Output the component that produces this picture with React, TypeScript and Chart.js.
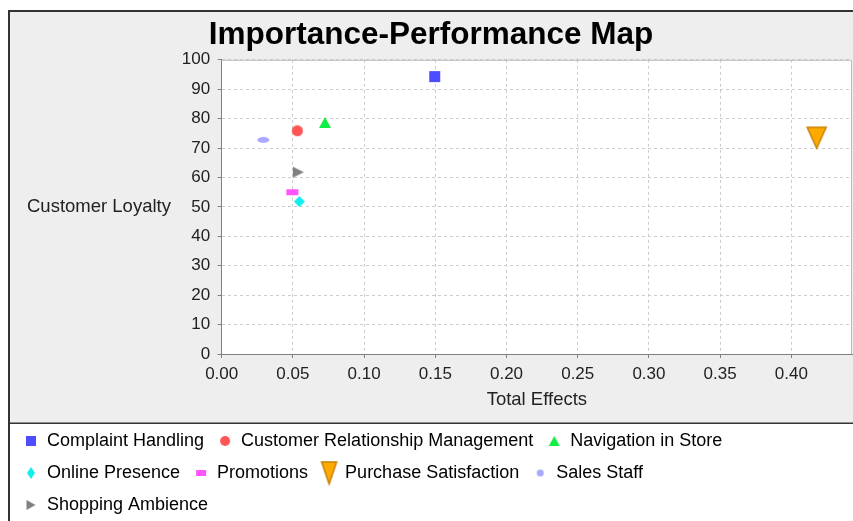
import React, { useEffect, useRef } from "react";
import { Chart, registerables } from "chart.js";

Chart.register(...registerables);

// ---------- data ----------
const CHART_TITLE = "Importance-Performance Map";
const X_TITLE = "Total Effects";
const Y_TITLE = "Customer Loyalty";

const SERIES_NAMES = [
  "Complaint Handling",
  "Customer Relationship Management",
  "Navigation in Store",
  "Online Presence",
  "Promotions",
  "Purchase Satisfaction",
  "Sales Staff",
  "Shopping Ambience",
];
const TOTAL_EFFECTS = [0.1496, 0.0531, 0.0725, 0.0545, 0.0496, 0.4178, 0.0292, 0.0538];
const CUSTOMER_LOYALTY = [94.3, 75.9, 78.7, 51.8, 55.0, 73.5, 72.8, 61.8];

const X_MIN = 0;
const X_MAX = 0.4426;
const X_STEP = 0.05;
const Y_MIN = 0;
const Y_MAX = 100;
const Y_STEP = 10;

// ---------- styles ----------
type Kind = "square" | "circle" | "triUp" | "diamond" | "rect" | "triDown" | "ellipse" | "triRight";
const MARKERS: { kind: Kind; fill: string; stroke: string; w: number; h: number; lw: number; lh: number }[] = [
  { kind: "square", fill: "#4D4DFF", stroke: "", w: 11, h: 11, lw: 10, lh: 10 },
  { kind: "circle", fill: "#FF5555", stroke: "", w: 11, h: 11, lw: 10, lh: 10 },
  { kind: "triUp", fill: "#11EE44", stroke: "", w: 12, h: 11, lw: 11, lh: 10 },
  { kind: "diamond", fill: "#11EEEE", stroke: "", w: 11, h: 11, lw: 8, lh: 12 },
  { kind: "rect", fill: "#FF55FF", stroke: "", w: 12, h: 6, lw: 10, lh: 6 },
  { kind: "triDown", fill: "#FFAA00", stroke: "#C88000", w: 19, h: 21, lw: 15, lh: 22 },
  { kind: "ellipse", fill: "#A8A8FF", stroke: "", w: 12, h: 6, lw: 7, lh: 7 },
  { kind: "triRight", fill: "#808080", stroke: "", w: 11, h: 11, lw: 9, lh: 10 },
];

const FONT = "'Liberation Sans', Arial, Helvetica, sans-serif";
const TEXT_COLOR = "#222222";

function makeMarker(kind: Kind, fill: string, stroke: string, w: number, h: number) {
  const pad = 2;
  const c = document.createElement("canvas");
  c.width = w + pad * 2;
  c.height = h + pad * 2;
  const ctx = c.getContext("2d")!;
  ctx.translate(pad, pad);
  ctx.beginPath();
  switch (kind) {
    case "square":
    case "rect":
      ctx.rect(0, 0, w, h);
      break;
    case "circle":
    case "ellipse":
      ctx.ellipse(w / 2, h / 2, w / 2, h / 2, 0, 0, Math.PI * 2);
      break;
    case "triUp":
      ctx.moveTo(w / 2, 0);
      ctx.lineTo(w, h);
      ctx.lineTo(0, h);
      ctx.closePath();
      break;
    case "triDown":
      ctx.moveTo(0, 0);
      ctx.lineTo(w, 0);
      ctx.lineTo(w / 2, h);
      ctx.closePath();
      break;
    case "triRight":
      ctx.moveTo(0, 0);
      ctx.lineTo(w, h / 2);
      ctx.lineTo(0, h);
      ctx.closePath();
      break;
    case "diamond":
      ctx.moveTo(w / 2, 0);
      ctx.lineTo(w, h / 2);
      ctx.lineTo(w / 2, h);
      ctx.lineTo(0, h / 2);
      ctx.closePath();
      break;
  }
  ctx.fillStyle = fill;
  ctx.fill();
  if (stroke) {
    ctx.strokeStyle = stroke;
    ctx.lineWidth = 1.5;
    ctx.lineJoin = "miter";
    ctx.stroke();
  }
  return c;
}

export default function App() {
  const ref = useRef<HTMLCanvasElement>(null);

  useEffect(() => {
    const canvas = ref.current!;
    const plotMarkers = MARKERS.map((m) => makeMarker(m.kind, m.fill, m.stroke, m.w, m.h));
    const legendMarkers = MARKERS.map((m) => makeMarker(m.kind, m.fill, m.stroke, m.lw, m.lh));

    const datasets = SERIES_NAMES.map((name, i) => ({
      label: name,
      data: [{ x: TOTAL_EFFECTS[i], y: CUSTOMER_LOYALTY[i] }],
      pointStyle: plotMarkers[i] as any,
      pointRadius: 6,
      backgroundColor: MARKERS[i].fill,
      borderColor: MARKERS[i].fill,
    }));

    const decor = {
      id: "decor",
      beforeDraw(chart: any) {
        const { ctx, chartArea: a, width, height } = chart;
        const sep = chart.legend.top + 6;
        ctx.save();
        ctx.fillStyle = "#EEEEEE";
        ctx.fillRect(0, 0, width, height);
        ctx.fillStyle = "#FFFFFF";
        ctx.fillRect(a.left, a.top, a.right - a.left, a.bottom - a.top);
        ctx.fillRect(0, sep, width, height - sep);
        ctx.fillStyle = "#333333";
        ctx.fillRect(0, sep - 1.5, width, 1.5);
        ctx.restore();
      },
      beforeDatasetsDraw(chart: any) {
        const { ctx, chartArea: a } = chart;
        ctx.save();
        ctx.strokeStyle = "#BBBBBB";
        ctx.lineWidth = 1;
        ctx.beginPath();
        ctx.moveTo(a.left, a.top + 0.5);
        ctx.lineTo(a.right - 0.5, a.top + 0.5);
        ctx.lineTo(a.right - 0.5, a.bottom);
        ctx.stroke();
        ctx.restore();
      },
      afterDraw(chart: any) {
        const { ctx, chartArea: a } = chart;
        ctx.save();
        ctx.font = `18.5px ${FONT}`;
        ctx.fillStyle = TEXT_COLOR;
        ctx.textAlign = "left";
        ctx.textBaseline = "middle";
        ctx.fillText(Y_TITLE, 17, (a.top + a.bottom) / 2);
        ctx.restore();
      },
    };

    const tickFont = { family: FONT, size: 17 };
    const axisTitleFont = { family: FONT, size: 18.5 };
    const chart = new Chart(canvas, {
      type: "scatter",
      data: { datasets },
      options: {
        animation: false,
        responsive: false,
        events: [],
        layout: { autoPadding: false, padding: { left: 0, right: 1, top: 0, bottom: 0 } },
        plugins: {
          title: {
            display: true,
            text: CHART_TITLE,
            color: "#000000",
            font: { family: FONT, size: 31.5, weight: "bold" },
            padding: { top: 4, bottom: 6 },
          },
          legend: {
            position: "bottom",
            align: "start",
            labels: {
              usePointStyle: true,
              pointStyleWidth: 14,
              boxHeight: 12,
              padding: 14,
              color: TEXT_COLOR,
              font: { family: FONT, size: 18 },
              generateLabels: () =>
                SERIES_NAMES.map((n, i) => ({
                  text: n,
                  pointStyle: legendMarkers[i] as any,
                  fillStyle: MARKERS[i].fill,
                  strokeStyle: MARKERS[i].fill,
                  lineWidth: 0,
                  hidden: false,
                  datasetIndex: i,
                })),
            },
          },
          tooltip: { enabled: false },
        },
        scales: {
          x: {
            type: "linear",
            min: X_MIN,
            max: X_MAX,
            afterFit: (s: any) => {
              s.height = 64;
            },
            ticks: {
              stepSize: X_STEP,
              includeBounds: false,
              padding: 6,
              color: TEXT_COLOR,
              font: tickFont,
              callback: (v: any) => Number(v).toFixed(2),
            },
            grid: { color: "#CCCCCC", lineWidth: 1, tickColor: "#808080", tickLength: 4 },
            border: { color: "#808080", width: 1, dash: [3, 3] },
            title: {
              display: true,
              text: X_TITLE,
              color: TEXT_COLOR,
              font: axisTitleFont,
              padding: { top: 4, bottom: 7 },
            },
          },
          y: {
            type: "linear",
            min: Y_MIN,
            max: Y_MAX,
            afterFit: (s: any) => {
              s.width = 211.7;
            },
            ticks: {
              stepSize: Y_STEP,
              padding: 7.5,
              color: TEXT_COLOR,
              font: tickFont,
            },
            grid: { color: "#CCCCCC", lineWidth: 1, tickColor: "#808080", tickLength: 4 },
            border: { color: "#808080", width: 1, dash: [3, 3] },
          },
        },
      } as any,
      plugins: [decor],
    });
    return () => chart.destroy();
  }, []);

  return (
    <div
      style={{
        position: "fixed",
        left: 8,
        top: 10,
        width: 845,
        height: 511,
        borderTop: "2px solid #333",
        borderLeft: "2px solid #333",
        boxSizing: "border-box",
        background: "#EEEEEE",
        overflow: "hidden",
      }}
    >
      <canvas ref={ref} width={843} height={512} style={{ display: "block", width: 843, height: 512 }} />
    </div>
  );
}
